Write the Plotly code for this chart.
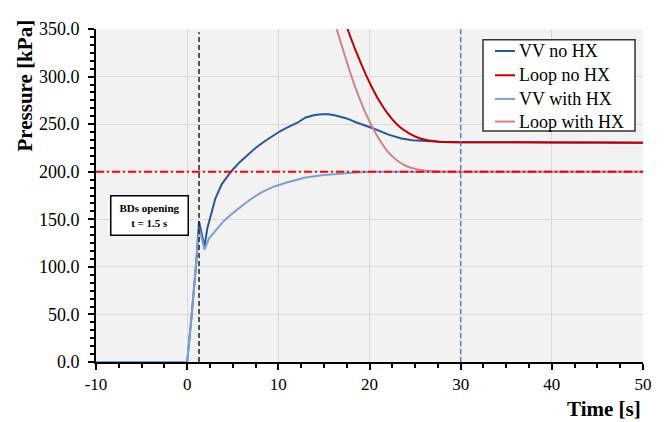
import plotly.graph_objects as go

# ---- data ----
t_vv_nohx = [-10, 0, 0.5, 1.0, 1.3, 1.6, 1.9, 2.2, 2.5, 3.1, 3.8, 4.8, 5.7, 6.8, 7.5, 8.5, 10.1, 11.0,
             12.1, 13.0, 14.0, 14.8, 15.5, 16.3, 17.5, 18.5, 20.3, 22.1, 23.5, 24.7, 26.0, 27.6, 30, 35,
             40, 45, 50]
p_vv_nohx = [0, 0, 50, 105, 148, 135, 121, 140, 150, 172, 187, 200, 209.5, 219.5, 225, 232, 242,
             246.5, 251.5, 257, 259.5, 260.5, 260.5, 259, 256, 252, 246, 239, 235, 233, 232, 231.5,
             231, 231, 230.8, 230.6, 230.5]

t_loop_nohx = [17.0, 17.6, 18.5, 19.6, 20.3, 21.1, 22.0, 23.2, 24.3, 25.4, 26.5, 27.6, 29, 30, 35,
               40, 45, 50]
p_loop_nohx = [372, 350, 327, 302, 288, 274, 261, 248, 240.5, 235.5, 232.8, 231.6, 231, 231, 231,
               230.8, 230.6, 230.5]

t_vv_hx = [-10, 0, 0.5, 1.0, 1.3, 1.6, 1.9, 2.4, 3.0, 4.0, 5.0, 5.7, 6.8, 8.0, 9.4, 11.0, 13.0,
           15.0, 16.7, 18.5, 20.3, 22, 25, 30, 40, 50]
p_vv_hx = [0, 0, 50, 105, 140, 130, 118, 130, 137, 148, 156.5, 162, 170, 177.5, 184, 189, 194,
           196.5, 198, 199.3, 200, 200, 200, 200, 200, 200]

t_loop_hx = [15.6, 16.4, 17.2, 18.1, 18.9, 19.6, 20.3, 21.2, 22.1, 23.0, 24.0, 25.0, 26.2, 27.5,
             30, 40, 50]
p_loop_hx = [375, 350, 325, 298, 277, 261, 247, 232, 220, 212, 206, 203, 201, 200.3, 200, 200,
             200]

series_names = ["VV no HX", "Loop no HX", "VV with HX", "Loop with HX"]
series_colors = ["#2B579A", "#C00000", "#7F9FD3", "#D08585"]

x_ticks = [-10, 0, 10, 20, 30, 40, 50]
y_ticks = [0, 50, 100, 150, 200, 250, 300, 350]

bd_time = 1.3
end_time = 30
limit_pressure = 200

SERIF = "Liberation Serif"

fig = go.Figure()
series = [(t_vv_nohx, p_vv_nohx, "linear"), (t_loop_nohx, p_loop_nohx, "spline"),
          (t_vv_hx, p_vv_hx, "linear"), (t_loop_hx, p_loop_hx, "spline")]
for (tx, py, shape), name, color in zip(series, series_names, series_colors):
    line = dict(color=color, width=2, shape=shape)
    if shape == "spline":
        line["smoothing"] = 0.8
    fig.add_trace(go.Scatter(x=tx, y=py, name=name, mode="lines", line=line, showlegend=False))

# reference lines
fig.add_shape(type="line", xref="x", yref="paper", x0=bd_time, x1=bd_time, y0=0, y1=0.99,
              line=dict(color="#222222", width=1.5, dash="5px,3px"), layer="above")
fig.add_shape(type="line", xref="x", yref="paper", x0=end_time, x1=end_time, y0=0, y1=1,
              line=dict(color="#4F7FC8", width=1.5, dash="5px,3px"), layer="above")
fig.add_shape(type="line", xref="paper", yref="y", x0=0, x1=1, y0=limit_pressure,
              y1=limit_pressure,
              line=dict(color="#FF0000", width=2, dash="8px,3px,2px,3px"), layer="above")

# legend box (drawn to match the compact legend of the reference)
fig.add_shape(type="rect", xref="paper", yref="paper", x0=0.7075, x1=0.9854, y0=0.694, y1=0.968,
              fillcolor="white", line=dict(color="#333333", width=1.5), layer="above")
legend_rows = [0.934, 0.861, 0.790, 0.722]
for yy, name, color in zip(legend_rows, series_names, series_colors):
    fig.add_shape(type="line", xref="paper", yref="paper", x0=0.7294, x1=0.766, y0=yy, y1=yy,
                  line=dict(color=color, width=2), layer="above")
    fig.add_annotation(x=0.7697, y=yy, xref="paper", yref="paper", text=name, showarrow=False,
                       xanchor="left", yanchor="middle",
                       font=dict(family=SERIF, size=18, color="black"))

fig.add_annotation(x=-4.1, y=154, xref="x", yref="y", text="<b>BDs opening<br>t = 1.5 s</b>",
                   showarrow=False, font=dict(family=SERIF, size=11, color="black"),
                   bgcolor="white", bordercolor="black", borderwidth=1.5, width=74, height=36)

fig.add_annotation(x=-0.13, y=0.83, xref="paper", yref="paper", text="<b>Pressure [kPa]</b>",
                   textangle=-90, showarrow=False, xanchor="center", yanchor="middle",
                   font=dict(family=SERIF, size=21, color="black"))
fig.add_annotation(x=1.0, y=-0.14, xref="paper", yref="paper", text="<b>Time [s]</b>",
                   xanchor="right", yanchor="middle", showarrow=False,
                   font=dict(family=SERIF, size=21, color="black"))

# the page body adds an 8px offset, so the figure is sized to fit the window
fig.update_layout(
    width=657, height=414,
    margin=dict(l=88, r=22, t=11, b=60),
    paper_bgcolor="white", plot_bgcolor="#F2F2F2",
    font=dict(family=SERIF, color="black"),
    showlegend=False,
)
fig.update_xaxes(range=[-10, 50], tickvals=x_ticks, ticktext=[str(v) for v in x_ticks],
                 showgrid=True, gridcolor="#D9D9D9", gridwidth=1, zeroline=False,
                 showline=True, linecolor="black", linewidth=2,
                 ticks="outside", ticklen=6, tickwidth=2, tickcolor="black",
                 minor=dict(dtick=2.5, ticks="outside", ticklen=4, tickwidth=1.5,
                            tickcolor="black", showgrid=False),
                 tickfont=dict(family=SERIF, size=17, color="black"))
fig.update_yaxes(range=[0, 350], tickvals=y_ticks, ticktext=[f"{v:.1f}" for v in y_ticks],
                 showgrid=True, gridcolor="#D9D9D9", gridwidth=1, zeroline=False,
                 showline=True, linecolor="black", linewidth=2,
                 ticks="outside", ticklen=6, tickwidth=2, tickcolor="black",
                 ticklabelstandoff=5,
                 minor=dict(dtick=50 / 6, ticks="outside", ticklen=4, tickwidth=1.5,
                            tickcolor="black", showgrid=False),
                 tickfont=dict(family=SERIF, size=18, color="black"))

fig.write_html("out.html")
